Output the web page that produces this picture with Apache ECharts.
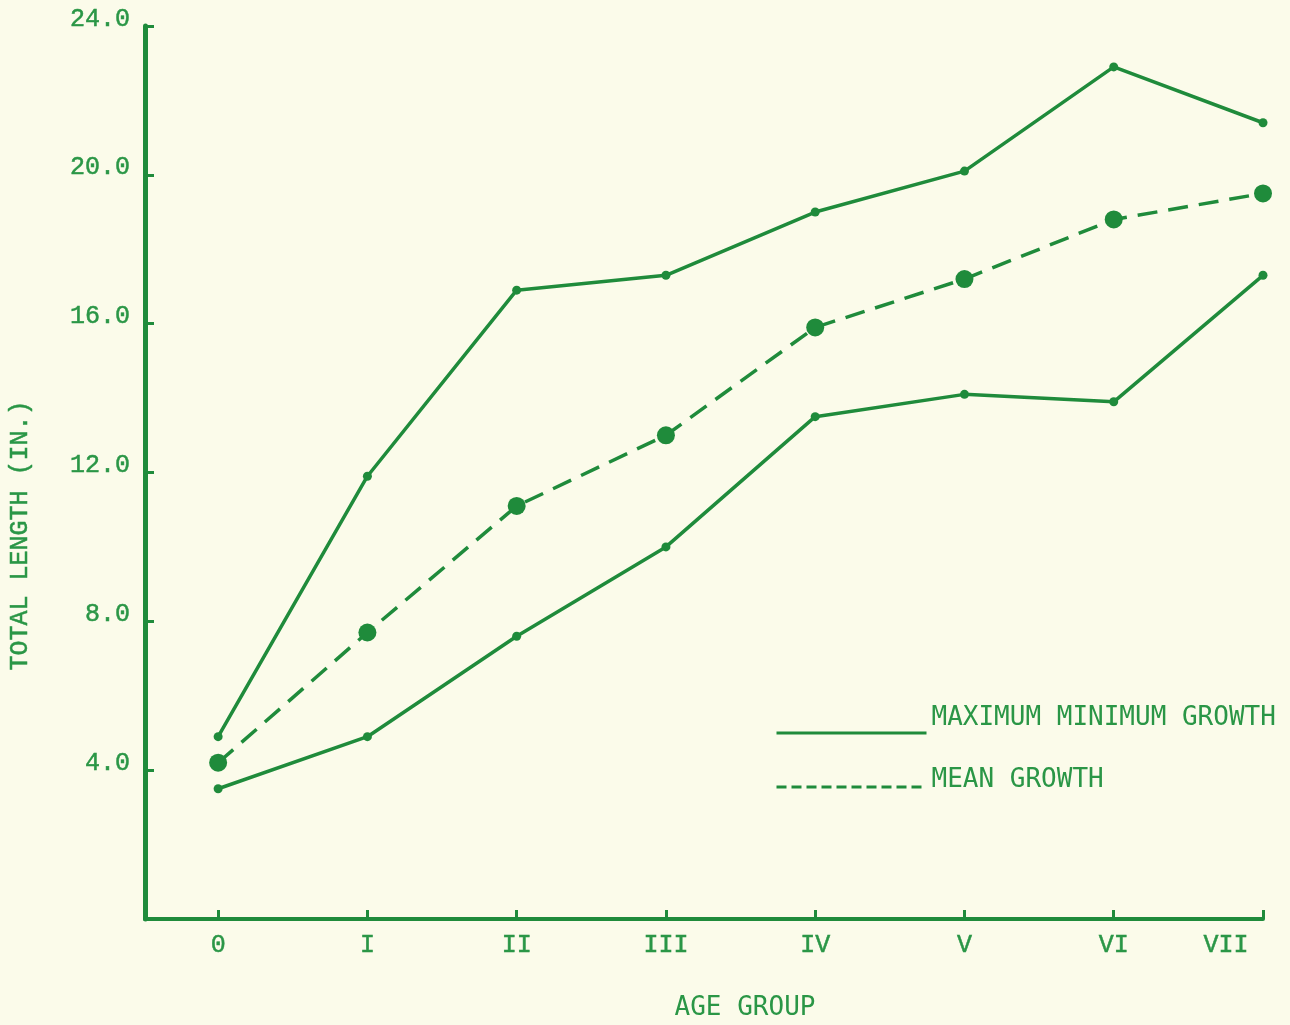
<!DOCTYPE html>
<html>
<head>
<meta charset="utf-8">
<script src="https://cdn.jsdelivr.net/npm/echarts@6/dist/echarts.min.js"></script>
<style>
  html, body { margin: 0; padding: 0; background: #fbfbea; }
  #chart { width: 1290px; height: 1025px; }
</style>
</head>
<body>
<div id="chart"></div>
<script>
// Age groups along the x axis (roman numerals, typewriter style)
const ageGroups = ['0', 'I', 'II', 'III', 'IV', 'V', 'VI', 'VII'];
// Total length in inches for each age group
const maxGrowth  = [4.9, 11.9, 16.9, 17.3, 19.0, 20.1, 22.9, 21.4];
const minGrowth  = [3.5, 4.9, 7.6, 10.0, 13.5, 14.1, 13.9, 17.3];
const meanGrowth = [4.2, 7.7, 11.1, 13.0, 15.9, 17.2, 18.8, 19.5];

const LINE = '#1f8b3b';
const INK = '#2a9646';
const MONO = '"Liberation Mono", "DejaVu Sans Mono", monospace';
const SANS_MONO = '"DejaVu Sans Mono", monospace';
const GROWTH_NAME = 'MAXIMUM MINIMUM GROWTH';
const MEAN_NAME = 'MEAN GROWTH';

// slightly heavier strokes give the typewriter ink look
const ink = { color: INK, textBorderColor: INK, textBorderWidth: 0.5 };
const plain = { color: INK };

const pairs = vals => vals.map((v, i) => [i, v]);
const groupIdx = ageGroups.map((g, i) => i);

const chart = echarts.init(document.getElementById('chart'), null, { renderer: 'canvas' });

chart.setOption({
  backgroundColor: '#fbfbea',
  animation: false,
  grid: { left: 145, right: 27, top: 26, bottom: 106, outerBoundsMode: 'none', containLabel: false },
  legend: {
    orient: 'vertical',
    left: 770,
    top: 700,
    itemWidth: 150,
    itemHeight: 14,
    itemGap: 6,
    itemStyle: { opacity: 0 },
    formatter: name => (name === GROWTH_NAME ? '{a|' + name + '}' : '{b|' + name + '}'),
    textStyle: {
      fontFamily: SANS_MONO, fontSize: 26, lineHeight: 30, ...plain,
      rich: {
        a: { fontFamily: SANS_MONO, fontSize: 26, lineHeight: 30, ...plain, padding: [0, 0, 30, 0] },
        b: { fontFamily: SANS_MONO, fontSize: 26, lineHeight: 30, ...plain, padding: [0, 0, 14, 0] }
      }
    },
    data: [
      { name: GROWTH_NAME, lineStyle: { width: 3 } },
      { name: MEAN_NAME, lineStyle: { width: 3, type: [10, 5] } }
    ]
  },
  xAxis: {
    type: 'value',
    min: -0.49,
    max: 7,
    name: 'AGE GROUP',
    nameLocation: 'middle',
    nameGap: 76,
    nameTextStyle: { fontFamily: SANS_MONO, fontSize: 26, ...plain, padding: [0, 0, 0, 82] },
    splitLine: { show: false },
    axisLine: { show: true, onZero: false, lineStyle: { color: LINE, width: 4 } },
    axisTick: { show: true, inside: true, length: 9, customValues: groupIdx, lineStyle: { color: LINE, width: 3 } },
    axisLabel: {
      customValues: groupIdx,
      margin: 14,
      fontFamily: MONO,
      fontSize: 25,
      ...ink,
      formatter: v => {
        const label = ageGroups[Math.round(v)];
        return Math.round(v) === ageGroups.length - 1 ? '{shift|' + label + '}' : label;
      },
      rich: { shift: { fontFamily: MONO, fontSize: 25, ...ink, padding: [0, 74, 0, 0] } }
    }
  },
  yAxis: {
    type: 'value',
    min: 0,
    max: 24,
    interval: 4,
    name: 'TOTAL LENGTH (IN.)',
    nameLocation: 'middle',
    nameRotate: 90,
    nameGap: 112,
    nameTextStyle: { fontFamily: MONO, fontSize: 25, ...ink, padding: [0, 126, 0, 0] },
    splitLine: { show: false },
    axisLine: { show: true, onZero: false, lineStyle: { color: LINE, width: 5 } },
    axisTick: { show: true, inside: true, length: 9, lineStyle: { color: LINE, width: 3 } },
    axisLabel: {
      margin: 15,
      fontFamily: MONO,
      fontSize: 25,
      ...ink,
      verticalAlign: 'bottom',
      lineHeight: 14,
      formatter: v => (v === 0 ? '' : v.toFixed(1))
    }
  },
  series: [
    {
      name: GROWTH_NAME,
      type: 'line',
      data: pairs(maxGrowth),
      symbol: 'circle',
      symbolSize: 9,
      itemStyle: { color: LINE },
      lineStyle: { color: LINE, width: 3.5 }
    },
    {
      name: GROWTH_NAME,
      type: 'line',
      data: pairs(minGrowth),
      symbol: 'circle',
      symbolSize: 9,
      itemStyle: { color: LINE },
      lineStyle: { color: LINE, width: 3.5 }
    },
    {
      name: MEAN_NAME,
      type: 'line',
      data: pairs(meanGrowth),
      symbol: 'circle',
      symbolSize: 18,
      itemStyle: { color: LINE },
      lineStyle: { color: LINE, width: 3.5, type: [20, 11] }
    }
  ]
});
</script>
</body>
</html>
